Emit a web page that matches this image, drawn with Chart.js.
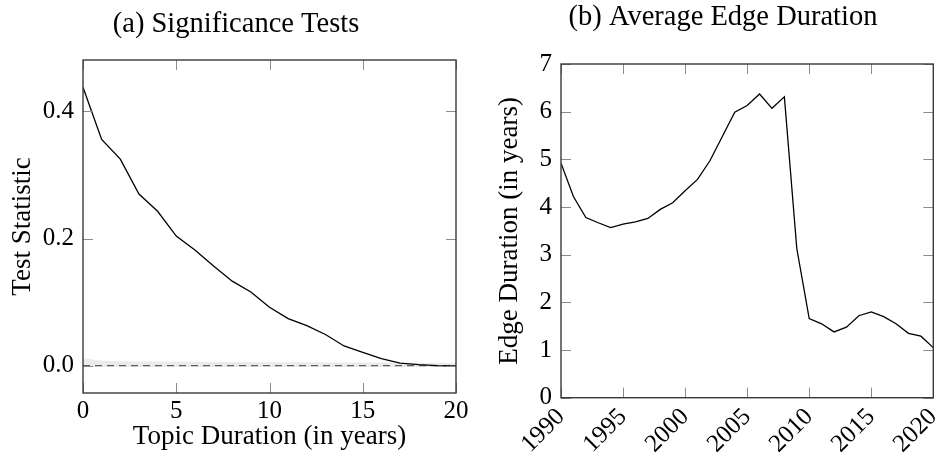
<!DOCTYPE html>
<html>
<head>
<meta charset="utf-8">
<title>Significance Tests / Average Edge Duration</title>
<script src="https://cdn.jsdelivr.net/npm/chart.js@4.4.1/dist/chart.umd.min.js"></script>
<style>
    body { margin: 0; background: #fff; }
    .panel { position: absolute; top: 0; width: 472px; height: 461px; }
    #panelA { left: 0; }
    #panelB { left: 472px; }
</style>
</head>
<body>
<div class="panel" id="panelA"><canvas id="sigChart" width="472" height="461"></canvas></div>
<div class="panel" id="panelB"><canvas id="edgeChart" width="472" height="461"></canvas></div>
<script>
// (a) test statistic per topic duration, with the null band around zero
const durations = [0, 1, 2, 3, 4, 5, 6, 7, 8, 9, 10, 11, 12, 13, 14, 15, 16, 17, 18, 19, 20];
const testStatistic = [0.438, 0.356, 0.325, 0.270, 0.243, 0.204, 0.182, 0.157, 0.133, 0.116, 0.092,
    0.074, 0.063, 0.049, 0.031, 0.021, 0.011, 0.004, 0.0015, 0.0, -0.0005];
const nullBandUpper = [0.0118, 0.0078, 0.0071, 0.0067, 0.0064, 0.0062, 0.0060, 0.0058, 0.0057, 0.0056, 0.0054,
    0.0053, 0.0052, 0.0051, 0.0050, 0.0049, 0.0048, 0.0047, 0.0046, 0.0045, 0.0044];
const nullBandLower = [-0.0024, -0.0022, -0.0021, -0.0021, -0.0020, -0.0020, -0.0020, -0.0020, -0.0020, -0.0020, -0.0020,
    -0.0020, -0.0020, -0.0020, -0.0020, -0.0020, -0.0020, -0.0020, -0.0020, -0.0020, -0.0020];
const nullLevel = 0;
const durationTicks = [0, 5, 10, 15, 20];
const statTicks = [0.0, 0.2, 0.4];

// (b) average edge duration per year
const years = [1990, 1991, 1992, 1993, 1994, 1995, 1996, 1997, 1998, 1999, 2000, 2001, 2002, 2003, 2004, 2005,
    2006, 2007, 2008, 2009, 2010, 2011, 2012, 2013, 2014, 2015, 2016, 2017, 2018, 2019, 2020];
const edgeDuration = [4.92, 4.22, 3.78, 3.67, 3.57, 3.64, 3.69, 3.76, 3.95, 4.09, 4.34, 4.58, 4.97, 5.48, 5.99, 6.13,
    6.37, 6.07, 6.31, 3.13, 1.66, 1.55, 1.38, 1.48, 1.72, 1.80, 1.70, 1.55, 1.35, 1.29, 1.05];
const yearTicks = [1990, 1995, 2000, 2005, 2010, 2015, 2020];
const edgeTicks = [0, 1, 2, 3, 4, 5, 6, 7];

const FONT = 'Liberation Serif';

// pgfplots-like box: full frame plus short tick marks pointing inwards on all four sides
const frameTicks = {
    id: 'frameTicks',
    afterDatasetsDraw(chart) {
        const { ctx, chartArea: a, scales } = chart;
        const len = 10;
        ctx.save();
        ctx.strokeStyle = '#8c8c8c';
        ctx.lineWidth = 1;
        ctx.beginPath();
        scales.x.ticks.forEach(t => {
            const px = Math.round(scales.x.getPixelForValue(t.value)) + 0.5;
            ctx.moveTo(px, a.bottom); ctx.lineTo(px, a.bottom - len);
            ctx.moveTo(px, a.top); ctx.lineTo(px, a.top + len);
        });
        scales.y.ticks.forEach(t => {
            const py = Math.round(scales.y.getPixelForValue(t.value)) + 0.5;
            ctx.moveTo(a.left, py); ctx.lineTo(a.left + len, py);
            ctx.moveTo(a.right, py); ctx.lineTo(a.right - len, py);
        });
        ctx.stroke();
        ctx.strokeStyle = '#3a3a3a';
        ctx.lineWidth = 1.4;
        ctx.strokeRect(a.left, a.top, a.right - a.left, a.bottom - a.top);
        ctx.restore();
    }
};

function points(xs, ys) {
    return xs.map((x, i) => ({ x: x, y: ys[i] }));
}

function baseScale(min, max, tickValues, format, tickPadding) {
    return {
        type: 'linear',
        min: min,
        max: max,
        grid: { display: false, drawTicks: false },
        border: { display: false },
        afterBuildTicks: s => { s.ticks = tickValues.map(v => ({ value: v })); },
        ticks: {
            color: '#000',
            autoSkip: false,
            padding: tickPadding,
            font: { family: FONT, size: 25 },
            callback: format
        }
    };
}

function axisTitle(text, padding) {
    return { display: true, text: text, color: '#000', font: { family: FONT, size: 27 }, padding: padding };
}

function commonOptions(titleText, titlePadding, layoutPadding) {
    return {
        responsive: false,
        animation: false,
        events: [],
        layout: { padding: layoutPadding },
        plugins: {
            legend: { display: false },
            tooltip: { enabled: false },
            title: {
                display: true,
                text: titleText,
                color: '#000',
                font: { family: FONT, size: 28.5, weight: 'normal' },
                padding: titlePadding
            }
        }
    };
}

// (a) Significance Tests
const sigX = baseScale(0, 20, durationTicks, v => String(v), 3.5);
sigX.title = axisTitle('Topic Duration (in years)', { top: 0, bottom: 8 });
sigX.afterFit = s => { s.height = 68; s.paddingRight = 16; };

const sigY = baseScale(-0.043, 0.481, statTicks, v => v.toFixed(1), 9);
sigY.title = axisTitle('Test Statistic', { top: 6.7, bottom: 0 });
sigY.afterFit = s => { s.width = 83; };

const sigOptions = commonOptions('(a) Significance Tests', { top: 7.6, bottom: 18.2 },
    { left: 0, right: 0, top: 0, bottom: 0 });
sigOptions.scales = { x: sigX, y: sigY };

// Chart.js paints the first dataset last, so the statistic line goes first to stay on top
new Chart(document.getElementById('sigChart'), {
    type: 'line',
    data: {
        datasets: [
            {
                data: points(durations, testStatistic),
                borderColor: '#000',
                borderWidth: 1.3,
                pointRadius: 0,
                fill: false
            },
            {
                data: points([durations[0], durations[durations.length - 1]], [nullLevel, nullLevel]),
                borderColor: '#5e5e5e',
                borderWidth: 1.1,
                borderDash: [7, 5],
                pointRadius: 0,
                fill: false
            },
            {
                data: points(durations, nullBandLower),
                borderColor: 'rgba(0,0,0,0)',
                borderWidth: 0,
                pointRadius: 0,
                fill: false
            },
            {
                data: points(durations, nullBandUpper),
                borderColor: 'rgba(0,0,0,0)',
                backgroundColor: '#ebebeb',
                borderWidth: 0,
                pointRadius: 0,
                fill: '-1'
            }
        ]
    },
    options: sigOptions,
    plugins: [frameTicks]
});

// (b) Average Edge Duration
const edgeX = baseScale(1990, 2020, yearTicks, v => String(v), 4.7);
edgeX.ticks.minRotation = 45;
edgeX.ticks.maxRotation = 45;
edgeX.afterFit = s => { s.height = 63.3; s.paddingRight = 10.7; };

const edgeY = baseScale(0, 7, edgeTicks, v => String(v), 9);
edgeY.title = axisTitle('Edge Duration (in years)', { top: -7.9, bottom: 0 });
edgeY.afterFit = s => { s.width = 59; };

const edgeOptions = commonOptions('(b) Average Edge Duration', { top: 0, bottom: 29.8 },
    { left: 30, right: 0, top: 0, bottom: 0 });
edgeOptions.scales = { x: edgeX, y: edgeY };

new Chart(document.getElementById('edgeChart'), {
    type: 'line',
    data: {
        datasets: [{
            data: points(years, edgeDuration),
            borderColor: '#000',
            borderWidth: 1.3,
            pointRadius: 0,
            fill: false
        }]
    },
    options: edgeOptions,
    plugins: [frameTicks]
});
</script>
</body>
</html>
